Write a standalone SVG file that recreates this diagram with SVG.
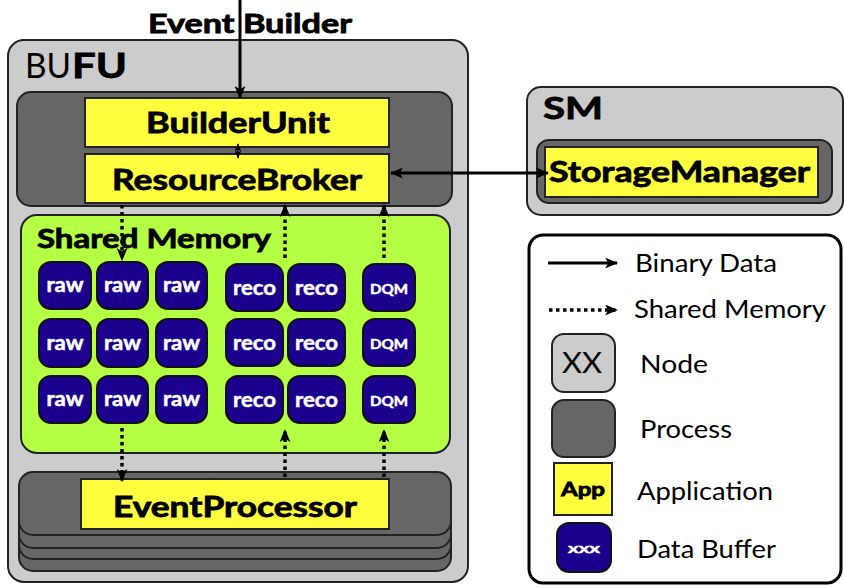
<svg xmlns="http://www.w3.org/2000/svg" width="844" height="587" viewBox="0 0 844 587">
<defs>
<marker id="ah" viewBox="0 0 12 10" refX="11" refY="5" markerWidth="13" markerHeight="11" markerUnits="userSpaceOnUse" orient="auto-start-reverse">
<path d="M0,0 L12,5 L0,10 L3,5 z" fill="#000"/>
</marker>
<marker id="ahs" viewBox="0 0 12 10" refX="11" refY="5" markerWidth="8" markerHeight="7" markerUnits="userSpaceOnUse" orient="auto-start-reverse">
<path d="M0,0 L12,5 L0,10 L3,5 z" fill="#000"/>
</marker>
<style>
.node{fill:#cccccc;stroke:#222;stroke-width:2}
.proc{fill:#666666;stroke:#222;stroke-width:2}
.app{fill:#ffff40;stroke:#222;stroke-width:2}
.buf{fill:#1a008c;stroke:#111;stroke-width:2}
.mem{fill:#b4ff44;stroke:#222;stroke-width:2}
.legend{fill:#ffffff;stroke:#000;stroke-width:3}
.t{font-family:Lato,"Open Sans","Liberation Sans",sans-serif;fill:#000}
.b{font-weight:bold;stroke:#000;stroke-width:0.8}
.bt{font-family:Lato,"Open Sans","Liberation Sans",sans-serif;font-weight:bold;fill:#fff;stroke:#fff;stroke-width:0.5;text-anchor:middle}
.solid{stroke:#000;stroke-width:3;fill:none}
.dot{stroke:#000;stroke-width:3.5;fill:none;stroke-dasharray:3.5 3.5}
</style>
</defs>
<rect width="844" height="587" fill="#fff"/>

<g id="bufu">
<rect class="node" x="8" y="40" width="460" height="542" rx="16"/>
<text class="t" x="25" y="78" font-size="35" textLength="46" lengthAdjust="spacingAndGlyphs">BU</text>
<text class="t b" x="72" y="78" font-size="35" textLength="55" lengthAdjust="spacingAndGlyphs">FU</text>
</g>

<g id="bu-process">
<rect class="proc" x="17" y="92" width="435" height="114" rx="14"/>
</g>
<g id="builderunit">
<rect class="app" x="85" y="98" width="304" height="49"/>
<text class="t b" x="146" y="133" font-size="28" textLength="184" lengthAdjust="spacingAndGlyphs">BuilderUnit</text>
</g>
<g id="resourcebroker">
<rect class="app" x="85" y="154" width="304" height="49"/>
<text class="t b" x="112" y="190" font-size="28" textLength="250" lengthAdjust="spacingAndGlyphs">ResourceBroker</text>
</g>

<g id="sharedmemory">
<rect class="mem" x="21" y="215" width="429" height="238" rx="16"/>
<text class="t b" x="37" y="248" font-size="27" textLength="234" lengthAdjust="spacingAndGlyphs">Shared Memory</text>
</g>

<g id="buffers">
<g id="raw-r1c1"><rect class="buf" x="39" y="262" width="52" height="47" rx="12"/><text class="bt" x="65" y="292" font-size="20" textLength="37" lengthAdjust="spacingAndGlyphs">raw</text></g>
<g id="raw-r1c2"><rect class="buf" x="97" y="262" width="51" height="47" rx="12"/><text class="bt" x="122.5" y="292" font-size="20" textLength="37" lengthAdjust="spacingAndGlyphs">raw</text></g>
<g id="raw-r1c3"><rect class="buf" x="156" y="262" width="51" height="47" rx="12"/><text class="bt" x="181.5" y="292" font-size="20" textLength="37" lengthAdjust="spacingAndGlyphs">raw</text></g>
<g id="raw-r2c1"><rect class="buf" x="39" y="319" width="52" height="48" rx="12"/><text class="bt" x="65" y="350" font-size="20" textLength="37" lengthAdjust="spacingAndGlyphs">raw</text></g>
<g id="raw-r2c2"><rect class="buf" x="97" y="319" width="51" height="48" rx="12"/><text class="bt" x="122.5" y="350" font-size="20" textLength="37" lengthAdjust="spacingAndGlyphs">raw</text></g>
<g id="raw-r2c3"><rect class="buf" x="156" y="319" width="51" height="48" rx="12"/><text class="bt" x="181.5" y="350" font-size="20" textLength="37" lengthAdjust="spacingAndGlyphs">raw</text></g>
<g id="raw-r3c1"><rect class="buf" x="39" y="376" width="52" height="47" rx="12"/><text class="bt" x="65" y="406" font-size="20" textLength="37" lengthAdjust="spacingAndGlyphs">raw</text></g>
<g id="raw-r3c2"><rect class="buf" x="97" y="376" width="51" height="47" rx="12"/><text class="bt" x="122.5" y="406" font-size="20" textLength="37" lengthAdjust="spacingAndGlyphs">raw</text></g>
<g id="raw-r3c3"><rect class="buf" x="156" y="376" width="51" height="47" rx="12"/><text class="bt" x="181.5" y="406" font-size="20" textLength="37" lengthAdjust="spacingAndGlyphs">raw</text></g>
<g id="reco-r1c1"><rect class="buf" x="226" y="264" width="57" height="47" rx="12"/><text class="bt" x="254.5" y="295" font-size="20" textLength="43" lengthAdjust="spacingAndGlyphs">reco</text></g>
<g id="reco-r1c2"><rect class="buf" x="288" y="264" width="57" height="47" rx="12"/><text class="bt" x="316.5" y="295" font-size="20" textLength="43" lengthAdjust="spacingAndGlyphs">reco</text></g>
<g id="reco-r2c1"><rect class="buf" x="226" y="319" width="57" height="47" rx="12"/><text class="bt" x="254.5" y="350" font-size="20" textLength="43" lengthAdjust="spacingAndGlyphs">reco</text></g>
<g id="reco-r2c2"><rect class="buf" x="288" y="319" width="57" height="47" rx="12"/><text class="bt" x="316.5" y="350" font-size="20" textLength="43" lengthAdjust="spacingAndGlyphs">reco</text></g>
<g id="reco-r3c1"><rect class="buf" x="226" y="376" width="57" height="47" rx="12"/><text class="bt" x="254.5" y="407" font-size="20" textLength="43" lengthAdjust="spacingAndGlyphs">reco</text></g>
<g id="reco-r3c2"><rect class="buf" x="288" y="376" width="57" height="47" rx="12"/><text class="bt" x="316.5" y="407" font-size="20" textLength="43" lengthAdjust="spacingAndGlyphs">reco</text></g>
<g id="dqm-r1"><rect class="buf" x="363" y="264" width="52" height="47" rx="12"/><text class="bt" x="389" y="294" font-size="14" textLength="38" lengthAdjust="spacingAndGlyphs">DQM</text></g>
<g id="dqm-r2"><rect class="buf" x="363" y="319" width="52" height="47" rx="12"/><text class="bt" x="389" y="349" font-size="14" textLength="38" lengthAdjust="spacingAndGlyphs">DQM</text></g>
<g id="dqm-r3"><rect class="buf" x="363" y="376" width="52" height="47" rx="12"/><text class="bt" x="389" y="406" font-size="14" textLength="38" lengthAdjust="spacingAndGlyphs">DQM</text></g>
</g>

<g id="ep-process">
<rect class="proc" x="19" y="508" width="432" height="63" rx="14"/>
<rect class="proc" x="19" y="496" width="432" height="63" rx="14"/>
<rect class="proc" x="19" y="485" width="432" height="63" rx="14"/>
<rect class="proc" x="19" y="472" width="432" height="63" rx="14"/>
</g>
<g id="eventprocessor">
<rect class="app" x="81" y="479" width="308" height="50"/>
<text class="t b" x="113" y="517" font-size="28" textLength="244" lengthAdjust="spacingAndGlyphs">EventProcessor</text>
</g>

<g id="sm">
<rect class="node" x="527" y="87" width="316" height="128" rx="14"/>
<text class="t b" x="543" y="119" font-size="31" textLength="60" lengthAdjust="spacingAndGlyphs">SM</text>
</g>
<g id="sm-process">
<rect class="proc" x="537" y="140" width="295" height="63" rx="12"/>
</g>
<g id="storagemanager">
<rect class="app" x="545" y="147" width="273" height="50"/>
<text class="t b" x="549" y="182" font-size="28" textLength="261" lengthAdjust="spacingAndGlyphs">StorageManager</text>
</g>

<g id="eventbuilder">
<text class="t b" x="148" y="33" font-size="26" textLength="204" lengthAdjust="spacingAndGlyphs">Event Builder</text>
</g>

<g id="connectors">
<line class="solid" x1="240" y1="0" x2="240" y2="98" marker-end="url(#ah)"/>
<line stroke="#000" stroke-width="1.5" x1="238" y1="144" x2="238" y2="158" marker-start="url(#ahs)" marker-end="url(#ahs)"/>
<line class="solid" x1="391" y1="173" x2="548" y2="173" marker-start="url(#ah)" marker-end="url(#ah)"/>
<line class="dot" x1="122" y1="205" x2="122" y2="260" marker-end="url(#ah)"/>
<line class="dot" x1="285" y1="258" x2="285" y2="205" marker-end="url(#ah)"/>
<line class="dot" x1="384" y1="258" x2="384" y2="205" marker-end="url(#ah)"/>
<line class="dot" x1="122" y1="428" x2="122" y2="481" marker-end="url(#ah)"/>
<line class="dot" x1="285" y1="477" x2="285" y2="430" marker-end="url(#ah)"/>
<line class="dot" x1="384" y1="477" x2="384" y2="430" marker-end="url(#ah)"/>
</g>

<g id="legend">
<rect class="legend" x="529" y="235" width="312" height="348" rx="14"/>
<line class="solid" x1="548" y1="263" x2="617" y2="263" marker-end="url(#ah)"/>
<text class="t" x="635" y="272" font-size="25" textLength="142" lengthAdjust="spacingAndGlyphs">Binary Data</text>
<line class="dot" x1="549" y1="310" x2="617" y2="310" marker-end="url(#ah)"/>
<text class="t" x="634" y="318" font-size="25" textLength="192" lengthAdjust="spacingAndGlyphs">Shared Memory</text>
<rect class="node" x="552" y="334" width="63" height="58" rx="12"/>
<text class="t" x="562" y="373" font-size="28" textLength="40" lengthAdjust="spacingAndGlyphs">XX</text>
<text class="t" x="640" y="373" font-size="25" textLength="68" lengthAdjust="spacingAndGlyphs">Node</text>
<rect class="proc" x="552" y="400" width="63" height="57" rx="12"/>
<text class="t" x="640" y="438" font-size="25" textLength="92" lengthAdjust="spacingAndGlyphs">Process</text>
<rect class="app" x="554" y="463" width="58" height="52"/>
<text class="t b" x="561" y="496" font-size="18" textLength="44" lengthAdjust="spacingAndGlyphs">App</text>
<text class="t" x="637" y="500" font-size="25" textLength="136" lengthAdjust="spacingAndGlyphs">Application</text>
<rect class="buf" x="557" y="523" width="54" height="49" rx="12"/>
<text class="bt" x="584" y="553" font-size="14" textLength="32" lengthAdjust="spacingAndGlyphs">xxx</text>
<text class="t" x="637" y="558" font-size="25" textLength="139" lengthAdjust="spacingAndGlyphs">Data Buffer</text>
</g>
</svg>
